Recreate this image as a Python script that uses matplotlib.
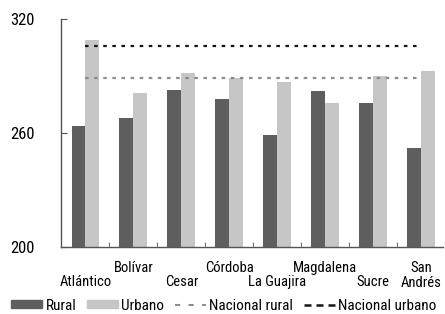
import matplotlib
matplotlib.use("Agg")
import matplotlib.pyplot as plt
import numpy as np
from matplotlib.lines import Line2D
from matplotlib.patches import Patch

plt.rcParams['font.family'] = ['Liberation Sans Narrow', 'Roboto Condensed',
                               'Archivo Narrow', 'DejaVu Sans']

departamentos = ['Atlántico', 'Bolívar', 'Cesar', 'Córdoba', 'La Guajira',
                 'Magdalena', 'Sucre', 'San Andrés']
rural = [264, 268, 283, 278, 259, 282, 276, 252]
urbano = [309, 281, 292, 289, 287, 276, 290, 293]
nacional_rural = 289
nacional_urbano = 306

c_rural = '#5e5e5e'
c_urbano = '#c6c6c6'
c_nrural = '#8c8c8c'
c_nurbano = '#151515'

fig = plt.figure(figsize=(4.45, 3.14), dpi=100)
ax = fig.add_axes([0.137, 0.214, 0.858, 0.724])

x = np.arange(len(departamentos))
w = 0.29
ax.bar(x - w / 2, rural, w, color=c_rural)
ax.bar(x + w / 2, urbano, w, color=c_urbano)
ax.hlines(nacional_rural, x[0], x[-1], color=c_nrural, lw=1.6,
          linestyles=(0, (1.6, 2.5)))
ax.hlines(nacional_urbano, x[0], x[-1], color=c_nurbano, lw=1.6,
          linestyles=(0, (1.6, 2.5)))

ax.set_ylim(200, 320)
ax.set_xlim(-0.51, 7.45)
ax.set_yticks([200, 260, 320])
ax.tick_params(axis='y', direction='in', length=4.5, labelsize=12, pad=36.5,
               color='#555555')
ax.set_yticklabels(['200', '260', '320'], ha='left')

labels = ['San\nAndrés' if d == 'San Andrés' else d for d in departamentos]
ax.set_xticks(x)
ax.set_xticklabels(labels, fontsize=10.5, linespacing=1.1)
ax.tick_params(axis='x', length=0, pad=10)
for i, t in enumerate(ax.xaxis.get_major_ticks()):
    if i % 2 == 0 and departamentos[i] != 'San Andrés':
        t.set_pad(20.5)
ax.set_xticks(x[:-1] + 0.5, minor=True)
ax.tick_params(axis='x', which='minor', direction='in', length=3.5,
               color='#555555')

for s in ['top', 'right']:
    ax.spines[s].set_visible(False)
for s in ['left', 'bottom']:
    ax.spines[s].set_color('#555555')
    ax.spines[s].set_linewidth(1)

handles = [Patch(color=c_rural), Patch(color=c_urbano),
           Line2D([], [], color=c_nrural, lw=1.5, dashes=(2.5, 4)),
           Line2D([], [], color=c_nurbano, lw=1.8, dashes=(2.8, 2))]
fig.legend(handles, ['Rural', 'Urbano', 'Nacional rural', 'Nacional urbano'],
           loc='center left', bbox_to_anchor=(0.025, 0.026), ncol=4,
           frameon=False, fontsize=11, handlelength=2.0, handleheight=0.45,
           handletextpad=0.25, columnspacing=0.7, borderpad=0,
           borderaxespad=0)

fig.savefig('out.png', dpi=100)
